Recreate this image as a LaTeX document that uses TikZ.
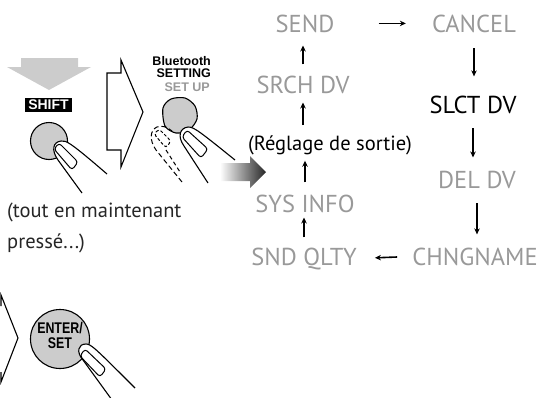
\documentclass[tikz,border=0pt]{standalone}
\usepackage{fontspec}
\setmainfont{PT Sans}
\newfontfamily\keyfont{Liberation Sans}
\newfontfamily\narrowkeyfont{Liberation Sans}[FakeStretch=0.8]
\usetikzlibrary{arrows.meta}
\definecolor{menugray}{HTML}{999999}
\definecolor{keygray}{HTML}{CCCCCC}

\begin{document}
\begin{tikzpicture}[x=1pt,y=-1pt]
        \tikzstyle{menu}=[inner sep=0pt,anchor=base,text=menugray,font=\fontsize{24.5}{28}\selectfont]
        \tikzstyle{note}=[inner sep=0pt,font=\fontsize{20.5}{24}\selectfont]
        \tikzstyle{flow}=[line width=1.6pt,-{Stealth[length=6pt,width=5.5pt]}]
        \tikzstyle{key}=[draw,line width=1.1pt,fill=keygray]
        \tikzstyle{finger}=[draw,line width=1.1pt,fill=white,line join=round]
        \tikzstyle{nail}=[draw,line width=1pt,rounded corners=3pt]
        \tikzstyle{keylabel}=[inner sep=0pt,font=\keyfont\bfseries\fontsize{12.5}{13}\selectfont]

        \useasboundingbox (0,0) rectangle (544,397);
        \clip (0,0) rectangle (544,397);

        % SHIFT key, pressed and held
        \fill[keygray] (21,58) -- (78,58) -- (78,67) -- (91,67) -- (49,90) -- (7,67) -- (21,67) -- cycle;
        \node[fill=black,text=white,inner sep=0pt,minimum width=47pt,minimum height=14pt,
              font=\keyfont\bfseries\fontsize{14}{14}\selectfont] (shift) at (48.5,105) {SHIFT};
        \draw[key] (49,141) circle (18.5);
        \filldraw[finger] (82,193) -- (58,160) .. controls (51,150) and (53,142) .. (61,141)
                .. controls (66,140) and (71,143) .. (107,174);
        \draw[nail] (54,149) -- (59,143) -- (78,162) -- (72,170) -- cycle;

        \filldraw[fill=white,line width=1.1pt] (107,73) -- (121,73) -- (121,60) -- (143,112)
                -- (121,167) -- (121,150) -- (107,150) -- cycle;

        % Bluetooth SETTING key
        \node[keylabel,anchor=base east] (bt) at (211,65.5) {Bluetooth};
        \node[keylabel,anchor=base east] (setting) at (211,77) {SETTING};
        \node[keylabel,anchor=base east,text=menugray] (setup) at (210,91) {SET UP};
        \filldraw[key] plot[smooth cycle] coordinates {(163,108) (171,99) (185,98) (195,106)
                (197,119) (189,130) (176,133) (165,126)};
        \draw[line width=1pt,dash pattern=on 5pt off 3pt] (182,182) -- (156,150)
                .. controls (149,140) and (150,130) .. (157,127) .. controls (162,125) and (167,127) .. (172,131);
        \draw[line width=1pt,dash pattern=on 4pt off 3pt] (166,150) -- (180,172);
        \draw[line width=1pt,dash pattern=on 3pt off 2pt,rounded corners=3pt]
                (154,134) -- (159,129) -- (171,141) -- (166,148) -- cycle;
        \filldraw[finger] (208,183) -- (184,146) .. controls (177,136) and (180,128) .. (188,127)
                .. controls (194,127) and (199,131) .. (235,160);
        \draw[nail] (182,137) -- (187,130) -- (208,149) -- (201,158) -- cycle;

        \shade[left color=white,right color=black!85] (220,163) -- (250,163) -- (250,156)
                -- (266,172) -- (250,188) -- (250,181) -- (220,181) -- cycle;

        \node[note,anchor=base west,text=black!85] (hold) at (7,217) {(tout en maintenant};
        \node[note,anchor=base west,text=black!85] (held) at (7,248) {pressé...)};

        % ENTER/SET key
        \draw[line width=1.1pt] (1,306) -- (1,295) -- (18,338) -- (1,382) -- (1,372);
        \draw[key] (60,339) circle (29.5);
        \node[inner sep=0pt,align=center,font=\narrowkeyfont\bfseries\fontsize{15.5}{15}\selectfont] (enter)
                at (60,335) {ENTER/\\SET};
        \filldraw[finger] (112,400) -- (83,360) .. controls (76,352) and (78,344) .. (86,344)
                .. controls (91,344) and (95,348) .. (135,388);
        \draw[nail] (80,356) -- (85,349) -- (106,369) -- (100,377) -- cycle;

        % setting menu loop
        \node[menu] (send) at (305,32) {SEND};
        \node[menu] (cancel) at (474,32) {CANCEL};
        \node[menu] (srch) at (303,93) {SRCH DV};
        \node[menu,text=black] (slct) at (473,113) {SLCT DV};
        \node[note,anchor=base] (reglage) at (330,150) {(Réglage de sortie)};
        \node[menu] (del) at (477,188) {DEL DV};
        \node[menu] (sys) at (305,212) {SYS INFO};
        \node[menu] (snd) at (304,265) {SND QLTY};
        \node[menu] (chng) at (475,265) {CHNGNAME};

        \draw[flow,shorten <=44pt,shorten >=26pt] (send.east) -- (cancel.west);
        \draw[flow,shorten <=16pt,shorten >=19pt] (cancel.south) -- (cancel.south |- slct.north);
        \draw[flow,shorten <=15pt,shorten >=13pt] (slct.south) -- (slct.south |- del.north);
        \draw[flow,shorten <=15pt,shorten >=13pt] (del.south) -- (del.south |- chng.north);
        \draw[flow,shorten <=15pt,shorten >=18pt] (chng.west) -- (snd.east);
        \draw[flow,shorten <=10pt,shorten >=5pt] (snd.north) -- (snd.north |- sys.south);
        \draw[flow,shorten <=12pt,shorten >=6pt] (sys.north) -- (sys.north |- reglage.south);
        \draw[flow,shorten <=10pt,shorten >=9pt] (srch.south |- reglage.north) -- (srch.south);
        \draw[flow,shorten <=11pt,shorten >=13pt] (srch.north) -- (srch.north |- send.south);

    \end{tikzpicture}
\end{document}
